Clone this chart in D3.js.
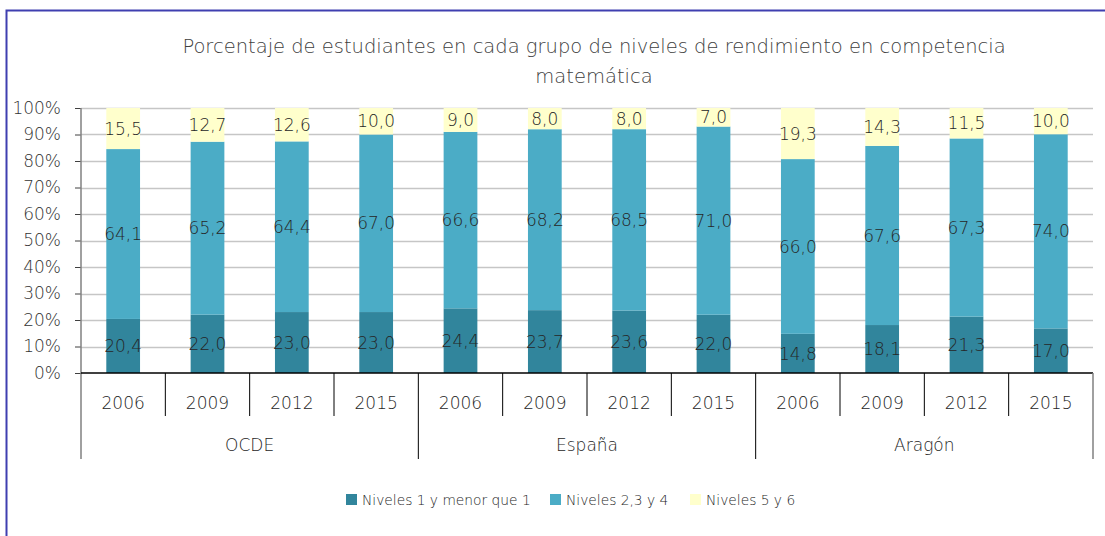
<!DOCTYPE html>
<html>
<head>
<meta charset="utf-8">
<script src="https://cdn.jsdelivr.net/npm/d3@7"></script>
<style>
  body { margin: 0; background: #fff; }
  svg text { font-family: "DejaVu Sans", sans-serif; font-weight: 200; fill: #262626; }
</style>
</head>
<body>
<div id="chart"></div>
<script>
// data ---------------------------------------------------------------
const groups = ["OCDE", "España", "Aragón"];
const years = ["2006", "2009", "2012", "2015"];
const seriesNames = ["Niveles 1 y menor que 1", "Niveles 2,3 y 4", "Niveles 5 y 6"];
const nivelesBajos = [20.4, 22.0, 23.0, 23.0, 24.4, 23.7, 23.6, 22.0, 14.8, 18.1, 21.3, 17.0];
const nivelesMedios = [64.1, 65.2, 64.4, 67.0, 66.6, 68.2, 68.5, 71.0, 66.0, 67.6, 67.3, 74.0];
const nivelesAltos = [15.5, 12.7, 12.6, 10.0, 9.0, 8.0, 8.0, 7.0, 19.3, 14.3, 11.5, 10.0];
const colors = ["#31859c", "#4bacc6", "#ffffcc"];

const width = 1105, height = 536;
const margin = {top: 108, right: 12, bottom: 163, left: 81};

const rows = [];
groups.forEach((g, gi) => {
  years.forEach((y, yi) => {
    const i = gi * years.length + yi;
    rows.push({key: g + "-" + y, group: g, year: y,
      s0: nivelesBajos[i], s1: nivelesMedios[i], s2: nivelesAltos[i]});
  });
});

const svg = d3.select("#chart").append("svg")
  .attr("width", width).attr("height", height);

// frame
svg.append("path")
  .attr("d", `M6.5,${height} V10.5 H${width}`)
  .attr("fill", "none").attr("stroke", "#3f3fb0").attr("stroke-width", 2);

// title
const titleLines = ["Porcentaje de estudiantes en cada grupo de niveles de rendimiento en competencia", "matemática"];
svg.append("g").selectAll("text").data(titleLines).join("text")
  .attr("x", 594).attr("y", (d, i) => 53 + i * 30).attr("text-anchor", "middle")
  .style("font-size", "19.5px").style("fill", "#404040")
  .text(d => d);

const innerW = width - margin.left - margin.right;
const innerH = height - margin.top - margin.bottom;
const g = svg.append("g").attr("transform", `translate(${margin.left},${margin.top})`);

const x = d3.scaleBand().domain(rows.map(d => d.key)).range([0, innerW])
  .paddingInner(0.6).paddingOuter(0.3);
const y = d3.scaleLinear().domain([0, 1]).range([innerH, 0]);

// grid
g.append("g").selectAll("line").data(y.ticks(10).slice(1))
  .join("line")
  .attr("x1", 0).attr("x2", innerW)
  .attr("y1", d => Math.round(y(d)) + 0.5).attr("y2", d => Math.round(y(d)) + 0.5)
  .attr("stroke", "#c6c6c6").attr("stroke-width", 1.3);

// stacked bars (100%)
const stack = d3.stack().keys(["s0", "s1", "s2"]).offset(d3.stackOffsetExpand);
const layers = stack(rows);

const layerG = g.selectAll(".layer").data(layers).join("g")
  .attr("class", "layer").attr("fill", (d, i) => colors[i]);

layerG.selectAll("rect").data(d => d).join("rect")
  .attr("x", d => x(d.data.key))
  .attr("width", x.bandwidth())
  .attr("y", d => y(d[1]))
  .attr("height", d => y(d[0]) - y(d[1]));

// data labels
const fmt = v => v.toFixed(1).replace(".", ",");
layers.forEach((layer, li) => {
  g.append("g").selectAll("text").data(layer).join("text")
    .attr("x", d => x(d.data.key) + x.bandwidth() / 2)
    .attr("y", d => (y(d[0]) + y(d[1])) / 2)
    .attr("dy", "0.36em")
    .attr("text-anchor", "middle")
    .style("font-size", "17px")
    .text(d => fmt(d.data[layer.key]));
});

// y axis
const yAxis = g.append("g")
  .call(d3.axisLeft(y).ticks(10).tickFormat(d3.format(".0%")).tickSize(6).tickPadding(14));
yAxis.select(".domain").remove();
yAxis.selectAll(".tick line").attr("stroke", "#404040");
yAxis.selectAll(".tick text").style("font-size", "17px").style("font-family", "'DejaVu Sans', sans-serif")
  .style("fill", "#333");
g.append("line").attr("x1", 0).attr("x2", 0).attr("y1", 0).attr("y2", innerH + 86)
  .attr("stroke", "#808080").attr("stroke-width", 1.5);

// x axis (two levels)
g.append("line").attr("x1", 0).attr("x2", innerW).attr("y1", innerH).attr("y2", innerH)
  .attr("stroke", "#000").attr("stroke-width", 1.5);

const step = x.step();
const xStart = x(rows[0].key) - x.paddingOuter() * step;
const tickG = g.append("g");
rows.forEach((d, i) => {
  const left = xStart + i * step;
  if (i % years.length !== 0) {
    tickG.append("line").attr("x1", left).attr("x2", left)
      .attr("y1", innerH).attr("y2", innerH + 43).attr("stroke", "#000");
  }
  tickG.append("text").attr("x", x(d.key) + x.bandwidth() / 2).attr("y", innerH + 36)
    .attr("text-anchor", "middle").style("font-size", "17px").text(d.year);
});
groups.forEach((grp, gi) => {
  const left = xStart + gi * years.length * step;
  const right = left + years.length * step;
  if (gi > 0) {
    tickG.append("line").attr("x1", left).attr("x2", left)
      .attr("y1", innerH).attr("y2", innerH + 86).attr("stroke", "#000");
  }
  if (gi === groups.length - 1) {
    tickG.append("line").attr("x1", right).attr("x2", right)
      .attr("y1", innerH).attr("y2", innerH + 86).attr("stroke", "#808080").attr("stroke-width", 1.5);
  }
  tickG.append("text").attr("x", (left + right) / 2).attr("y", innerH + 78)
    .attr("text-anchor", "middle").style("font-size", "17px").text(grp);
});

// legend
const legendX = [346, 550, 690];
const legend = svg.append("g").attr("transform", "translate(0,500)");
seriesNames.forEach((name, i) => {
  legend.append("rect").attr("x", legendX[i]).attr("y", -6).attr("width", 11).attr("height", 11)
    .attr("fill", colors[i]);
  legend.append("text").attr("x", legendX[i] + 16).attr("y", 0).attr("dy", "0.35em")
    .style("font-size", "13.8px").text(name);
});
</script>
</body>
</html>
